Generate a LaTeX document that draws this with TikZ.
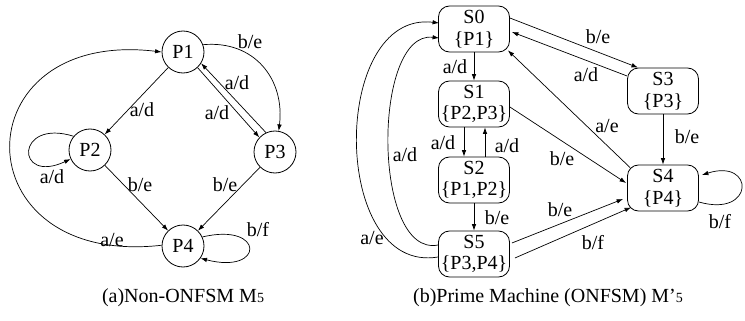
\documentclass[tikz,border=0pt]{standalone}
\usepackage{fontspec}
\setmainfont{Liberation Serif}
\usetikzlibrary{arrows.meta}
\begin{document}
\begin{tikzpicture}[x=1pt,y=-1pt,
  every node/.style={font=\fontsize{20}{21.5}\selectfont},
  st/.style={draw,circle,minimum size=42pt,inner sep=0pt,line width=0.8pt},
  sbox/.style={draw,rounded corners=11pt,minimum width=71pt,minimum height=46pt,inner sep=0pt,align=center,line width=0.8pt},
  lbl/.style={inner sep=0pt},
  arr/.style={line width=0.7pt,-{Latex[length=6.5pt,width=4.5pt]}}]
\useasboundingbox (0,0) rectangle (745,321);
% ---- left machine ----
\node[st] (P1) at (183,52) {P1};
\node[st] (P2) at (90,150) {P2};
\node[st] (P3) at (275,152) {P3};
\node[st] (P4) at (183,246) {P4};
\draw[arr] (P1) -- (P2);
\draw[arr] (P3.115) -- (P1.-32);
\draw[arr] (P1.-47) -- (P3.137);
\draw[arr] (P1.20) .. controls (255,40) and (285,80) .. (P3.80);
\draw[arr] (P2.140) .. controls (15,118) and (15,185) .. (P2.205);
\draw[arr] (P2) -- (P4);
\draw[arr] (P3) -- (P4);
\draw[arr] (P4.178) .. controls (-40,268) and (-40,28) .. (P1.180);
\draw[arr] (P4.25) .. controls (265,222) and (265,275) .. (P4.-35);
\node[lbl] (l1) at (142,110) {a/d};
\node[lbl] (l2) at (237,83) {a/d};
\node[lbl] (l3) at (217,113) {a/d};
\node[lbl] (l4) at (250,42) {b/e};
\node[lbl] (l5) at (52,177) {a/d};
\node[lbl] (l6) at (140,185) {b/e};
\node[lbl] (l7) at (225,185) {b/e};
\node[lbl] (l8) at (112,240) {a/e};
\node[lbl] (l9) at (258,230) {b/f};
\node[lbl] (capa) at (183,298) {(a)Non-ONFSM M{\fontsize{14}{14}\selectfont 5}};
% ---- right machine ----
\node[sbox] (S0) at (474,29) {S0\\\{P1\}};
\node[sbox] (S1) at (474,104) {S1\\\{P2,P3\}};
\node[sbox] (S2) at (474,180) {S2\\\{P1,P2\}};
\node[sbox] (S5) at (474,254) {S5\\\{P3,P4\}};
\node[sbox] (S3) at (663,91) {S3\\\{P3\}};
\node[sbox] (S4) at (663,188) {S4\\\{P4\}};
\draw[arr] (S0) -- (S1);
\draw[arr] ([xshift=-10pt]S1.south) -- ([xshift=-10pt]S2.north);
\draw[arr] ([xshift=11pt]S2.north) -- ([xshift=11pt]S1.south);
\draw[arr] (S2) -- (S5);
\draw[arr] ([yshift=11pt]S0.east) -- ([xshift=-25pt]S3.north);
\draw[arr] ([yshift=15pt]S3.west) -- ([yshift=-3pt,xshift=2pt]S0.east);
\draw[arr] (S3) -- (S4);
\draw[arr] ([yshift=-3pt]S1.east) -- ([yshift=5pt,xshift=-1pt]S4.west);
\draw[arr] ([xshift=3pt,yshift=-3pt]S4.north west) -- ([xshift=-2pt,yshift=2pt]S0.south east);
\draw[arr] ([yshift=11pt,xshift=2pt]S5.east) -- ([yshift=-11pt,xshift=-4pt]S4.west);
\draw[arr] ([yshift=-4pt,xshift=5pt]S5.east) -- ([xshift=4pt,yshift=4pt]S4.south west);
\draw[arr] ([yshift=-14pt]S4.east) .. controls (755,218) and (755,158) .. ([yshift=13pt,xshift=3pt]S4.east);
\draw[arr] ([yshift=9pt]S5.west) .. controls (372,258) and (372,30) .. ([yshift=-9pt,xshift=1pt]S0.west);
\draw[arr] ([yshift=-3pt]S5.west) .. controls (330,275) and (330,10) .. ([yshift=6pt,xshift=1pt]S0.west);
\node[lbl] (r1) at (455,67) {a/d};
\node[lbl] (r2) at (443,143) {a/d};
\node[lbl] (r3) at (507,146) {a/d};
\node[lbl] (r4) at (497,218) {b/e};
\node[lbl] (r5) at (598,37) {b/e};
\node[lbl] (r6) at (586,75) {a/d};
\node[lbl] (r7) at (687,137) {b/e};
\node[lbl] (r8) at (562,159) {b/e};
\node[lbl] (r9) at (607,126) {a/e};
\node[lbl] (r10) at (560,210) {b/e};
\node[lbl] (r11) at (593,243) {b/f};
\node[lbl] (r12) at (720,222) {b/f};
\node[lbl] (r13) at (405,155) {a/d};
\node[lbl] (r14) at (372,238) {a/e};
\node[lbl] (capb) at (548,298) {(b)Prime Machine (ONFSM) M'{\fontsize{14}{14}\selectfont 5}};
\end{tikzpicture}
\end{document}
